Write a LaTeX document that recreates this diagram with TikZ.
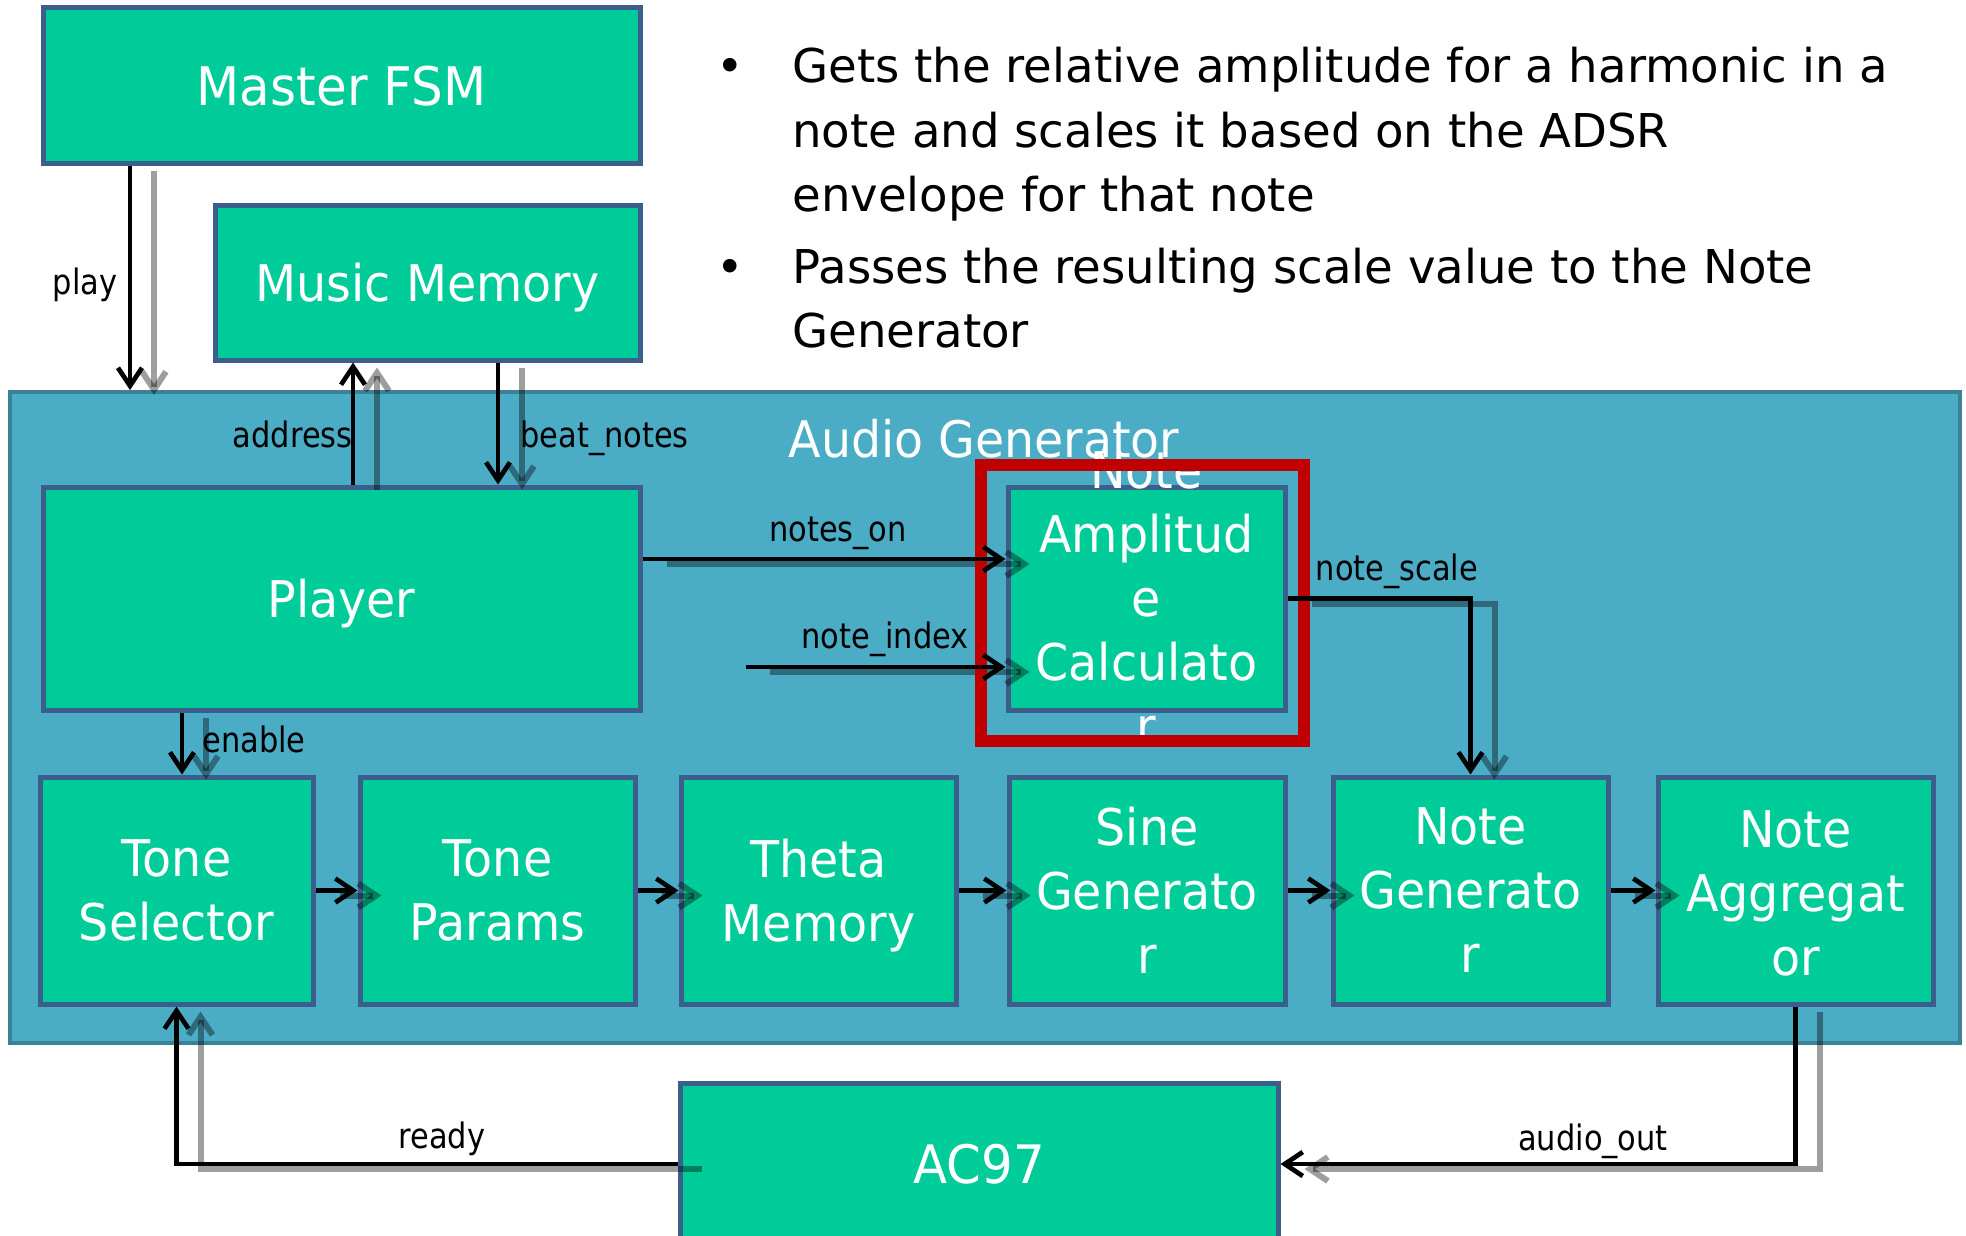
\documentclass[tikz,border=0pt]{standalone}
\usepackage{fontspec}
\setmainfont{DejaVu Sans}
\newfontfamily\boxfont[FakeStretch=0.94]{DejaVu Sans}
\newfontfamily\labfont[FakeStretch=0.87]{DejaVu Sans}
\usetikzlibrary{arrows.meta,calc}
\definecolor{boxgreen}{RGB}{0,204,153}
\definecolor{boxborder}{RGB}{60,94,140}
\definecolor{agfill}{RGB}{75,172,198}
\definecolor{agborder}{RGB}{60,130,150}
\definecolor{hlred}{RGB}{192,0,0}
\tikzset{
  blk/.style={draw=boxborder, line width=2.5pt, fill=boxgreen, inner sep=0pt},
  btxt/.style={text=white, align=center, font=\boxfont\fontsize{25.3}{32}\selectfont, inner sep=0pt, text depth=0pt},
  lab/.style={font=\labfont\fontsize{17.5}{20}\selectfont, inner sep=0pt, text=black},
  bul/.style={font=\fontsize{23.3}{32}\selectfont, inner sep=0pt, text=black},
  conn/.style={draw=black, line width=2.35pt, -{Straight Barb[length=9pt,width=12pt]}},
  shd/.style={draw=black, draw opacity=0.38, line width=3pt, -{Straight Barb[length=9pt,width=12pt]},
              transform canvas={xshift=12pt,yshift=-2.5pt}},
}
\begin{document}
\begin{tikzpicture}[x=0.5pt,y=-0.5pt]
\fill[white] (0,0) rectangle (1966,1236);
\path[use as bounding box] (0,0) rectangle (1966,1236);

% container
\node[draw=agborder, line width=2pt, fill=agfill, minimum width=975pt, minimum height=325.5pt, inner sep=0pt] (ag) at (985,717.5) {};
\node[btxt, font=\boxfont\fontsize{25.2}{28}\selectfont, anchor=base] (agtitle) at (984,457) {Audio Generator};

% boxes
\node[blk, minimum width=298.5pt, minimum height=78pt] (fsm) at (341.5,86) {};
\node[btxt, font=\boxfont\fontsize{26.6}{32}\selectfont] (fsmt) at (fsm.center) {Master FSM};
\node[blk, minimum width=212.5pt, minimum height=77.5pt] (mem) at (427.5,282.5) {};
\node[btxt] (memt) at (mem.center) {Music Memory};
\node[blk, minimum width=298.5pt, minimum height=111.5pt] (player) at (341.5,598.5) {};
\node[btxt] (playert) at (player.center) {Player};
\node[blk, minimum width=138.5pt, minimum height=111.5pt] (nac) at (1146.5,598.5) {};
\node[btxt] (nact) at (nac.center) {Note\\Amplitud\\e\\Calculato\\r};

\node[blk, minimum width=136.5pt, minimum height=113.5pt] (ts) at (176.5,890.5) {};
\node[btxt] (tst) at (ts.center) {Tone\\Selector};
\node[blk, minimum width=137.5pt, minimum height=113.5pt] (tp) at (497.5,890.5) {};
\node[btxt] (tpt) at (tp.center) {Tone\\Params};
\node[blk, minimum width=137.5pt, minimum height=113.5pt] (th) at (818.5,890.5) {};
\node[btxt] (tht) at (th.center) {Theta\\Memory};
\node[blk, minimum width=138pt, minimum height=113.5pt] (sg) at (1147,890.5) {};
\node[btxt] (sgt) at (sg.center) {Sine\\Generato\\r};
\node[blk, minimum width=137.5pt, minimum height=113.5pt] (ng) at (1470.5,890.5) {};
\node[btxt] (ngt) at (ng.center) {Note\\Generato\\r};
\node[blk, minimum width=137.5pt, minimum height=113.5pt] (na) at (1795.5,890.5) {};
\node[btxt] (nat) at ([yshift=-1.5pt]na.center) {Note\\Aggregat\\or};

\node[blk, minimum width=299pt, minimum height=81pt] (ac) at (979,1164) {};
\node[btxt, font=\boxfont\fontsize{26.5}{32}\selectfont] (act) at (ac.center) {AC97};

% bullets
\node[bul, anchor=base] (b1) at (730,83) {•};
\node[bul, anchor=base west] (b1a) at (792,83) {Gets the relative amplitude for a harmonic in a};
\node[bul, anchor=base west] (b1b) at (792,148) {note and scales it based on the ADSR};
\node[bul, anchor=base west] (b1c) at (792,212) {envelope for that note};
\node[bul, anchor=base] (b2) at (730,283) {•};
\node[bul, anchor=base west] (b2a) at (792,283) {Passes the resulting scale value to the Note};
\node[bul, anchor=base west] (b2b) at (792,347) {Generator};

% helper coordinates
\coordinate (xplay) at (130,0);
\coordinate (xaddr) at (353,0);
\coordinate (xbeat) at (498,0);
\coordinate (xen) at (182,0);
\coordinate (yno) at (0,559);
\coordinate (nistart) at (746,667);

% shadows
\draw[shd] (fsm.south -| xplay) -- (ag.north -| xplay);
\draw[shd] (player.north -| xaddr) -- (mem.south -| xaddr);
\draw[shd] (mem.south -| xbeat) -- (player.north -| xbeat);
\draw[shd] (player.east |- yno) -- (nac.west |- yno);
\draw[shd] (nistart) -- (nistart -| nac.west);
\draw[shd] (nac.east) -| (ng.north);
\draw[shd] (player.south -| xen) -- (ts.north -| xen);
\draw[shd] (ts.east) -- (tp.west);
\draw[shd] (tp.east) -- (th.west);
\draw[shd] (th.east) -- (sg.west);
\draw[shd] (sg.east) -- (ng.west);
\draw[shd] (ng.east) -- (na.west);
\draw[shd] (ac.west) -| (ts.south);
\draw[shd] (na.south) |- (ac.east);

% highlight frame
\node[draw=hlred, line width=6pt, minimum width=161.5pt, minimum height=138pt, inner sep=0pt] (hl) at (1142.5,603) {};

% connectors
\draw[conn] (fsm.south -| xplay) -- (ag.north -| xplay);
\draw[conn] (player.north -| xaddr) -- (mem.south -| xaddr);
\draw[conn] (mem.south -| xbeat) -- (player.north -| xbeat);
\draw[conn] (player.east |- yno) -- (nac.west |- yno);
\draw[conn] (nistart) -- (nistart -| nac.west);
\draw[conn] (nac.east) -| (ng.north);
\draw[conn] (player.south -| xen) -- (ts.north -| xen);
\draw[conn] (ts.east) -- (tp.west);
\draw[conn] (tp.east) -- (th.west);
\draw[conn] (th.east) -- (sg.west);
\draw[conn] (sg.east) -- (ng.west);
\draw[conn] (ng.east) -- (na.west);
\draw[conn] (ac.west) -| (ts.south);
\draw[conn] (na.south) |- (ac.east);

% labels
\node[lab, anchor=base] (lplay) at (85,294) {play};
\node[lab, anchor=base east] (laddr) at (353,447) {address};
\node[lab, anchor=base west] (lbeat) at (520,447) {beat\_notes};
\node[lab, anchor=base] (lnon) at (838,541) {notes\_on};
\node[lab, anchor=base] (lnidx) at (885,648) {note\_index};
\node[lab, anchor=base] (lnsc) at (1397,580) {note\_scale};
\node[lab, anchor=base] (len) at (254,752) {enable};
\node[lab, anchor=base] (lready) at (442,1148) {ready};
\node[lab, anchor=base] (laud) at (1593,1150) {audio\_out};
\end{tikzpicture}
\end{document}
